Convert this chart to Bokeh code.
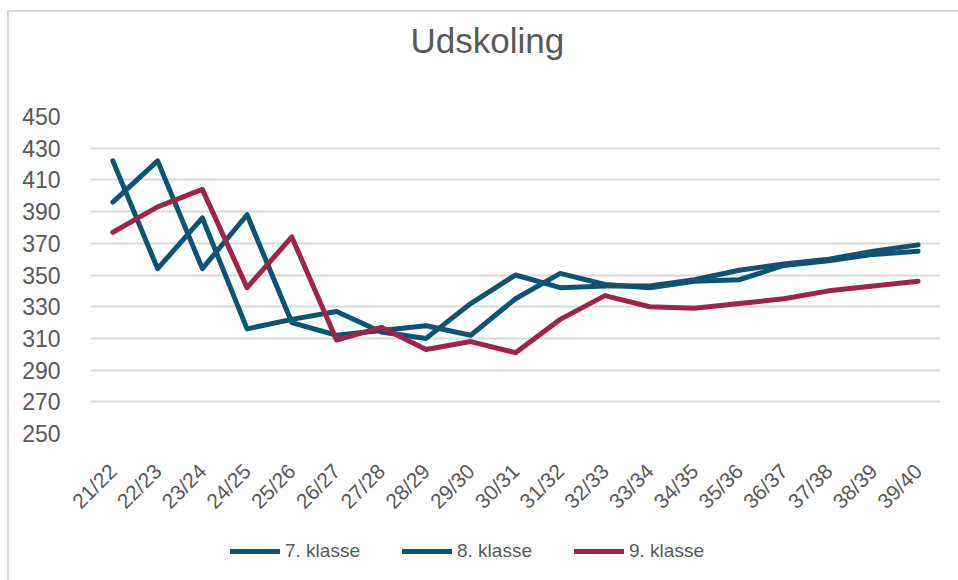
import math
from bokeh.plotting import figure
from bokeh.layouts import column
from bokeh.models import Range1d, FixedTicker, Legend, LegendItem, ColumnDataSource
from bokeh.embed import file_html
from bokeh.resources import INLINE

# ---- data ----
years = ["21/22", "22/23", "23/24", "24/25", "25/26", "26/27", "27/28", "28/29", "29/30", "30/31",
         "31/32", "32/33", "33/34", "34/35", "35/36", "36/37", "37/38", "38/39", "39/40"]
klasse7 = [422, 354, 386, 316, 322, 327, 314, 310, 332, 350, 342, 343, 343, 347, 353, 357, 360, 365, 369]
klasse8 = [396, 422, 354, 388, 320, 312, 315, 318, 312, 335, 351, 344, 342, 346, 347, 356, 359, 363, 365]
klasse9 = [377, 393, 404, 342, 374, 309, 317, 303, 308, 301, 322, 337, 330, 329, 332, 335, 340, 343, 346]
series_names = ["7. klasse", "8. klasse", "9. klasse"]
y_ticks = [250, 270, 290, 310, 330, 350, 370, 390, 410, 430, 450]
chart_title = "Udskoling"

TEAL = "#0c5471"
RED = "#9f2449"
TXT = "#595959"
FONT = "Liberation Sans"
LW = 5

src = ColumnDataSource(dict(x=years, k7=klasse7, k8=klasse8, k9=klasse9))
line_kw = dict(line_width=LW, line_cap="round", line_join="round")


def blank(fig):
    fig.outline_line_color = None
    fig.grid.grid_line_color = None
    fig.background_fill_color = "white"
    fig.border_fill_color = "white"


# ---- title strip ----
tt = figure(x_range=years, y_range=Range1d(0, 1), width=949, height=62,
            output_backend="svg", toolbar_location=None,
            x_axis_location=None, y_axis_location=None,
            min_border_left=81, min_border_right=18, min_border_top=47, min_border_bottom=0)
blank(tt)
tt.title.text = chart_title
tt.title.align = "left"
tt.title.offset = 320
tt.title.text_font = FONT
tt.title.text_font_size = "35px"
tt.title.text_font_style = "normal"
tt.title.text_color = TXT
tt.title.standoff = 0

# ---- main chart ----
p = figure(x_range=years, y_range=Range1d(250, 450), width=949, height=451,
           output_backend="svg", toolbar_location=None,
           min_border_left=81, min_border_right=18, min_border_top=42, min_border_bottom=92)
p.outline_line_color = None
p.background_fill_color = "white"
p.border_fill_color = "white"

p.xgrid.grid_line_color = None
p.ygrid.grid_line_color = "#d9d9d9"
p.ygrid.grid_line_width = 2

p.yaxis.ticker = FixedTicker(ticks=y_ticks)
for ax in (p.xaxis, p.yaxis):
    ax.axis_line_color = None
    ax.major_tick_line_color = None
    ax.minor_tick_line_color = None
    ax.major_tick_out = 0
    ax.major_tick_in = 0
    ax.minor_tick_out = 0
    ax.major_label_text_font = FONT
    ax.major_label_text_color = TXT
p.yaxis.major_label_text_font_size = "23px"
p.yaxis.major_label_standoff = 30
p.xaxis.major_label_text_font_size = "21px"
p.xaxis.major_label_orientation = math.pi / 4
p.xaxis.major_label_standoff = 34

p.line("x", "k7", source=src, line_color=TEAL, **line_kw)
p.line("x", "k8", source=src, line_color=TEAL, **line_kw)
p.line("x", "k9", source=src, line_color=RED, **line_kw)

# ---- legend strip (same series, plotted out of view; only the legend shows) ----
lg = figure(x_range=years, y_range=Range1d(1000, 1001), width=949, height=55,
            output_backend="svg", toolbar_location=None,
            x_axis_location=None, y_axis_location=None,
            min_border_left=81, min_border_right=18, min_border_top=0, min_border_bottom=0)
blank(lg)
q7 = lg.line("x", "k7", source=src, line_color=TEAL, **line_kw)
q8 = lg.line("x", "k8", source=src, line_color=TEAL, **line_kw)
q9 = lg.line("x", "k9", source=src, line_color=RED, **line_kw)

legend = Legend(items=[LegendItem(label=series_names[0], renderers=[q7]),
                       LegendItem(label=series_names[1], renderers=[q8]),
                       LegendItem(label=series_names[2], renderers=[q9])],
                orientation="horizontal", location=(140, 18),
                glyph_width=50, glyph_height=20, label_standoff=5, label_width=100, spacing=17,
                label_text_font=FONT, label_text_font_size="19px", label_text_color=TXT,
                border_line_color=None, background_fill_alpha=0, padding=0, margin=0)
lg.add_layout(legend)

layout = column(tt, p, lg, spacing=0,
                styles={"border-left": "2px solid #d9d9d9", "border-top": "2px solid #d9d9d9",
                        "margin-left": "7px", "margin-top": "10px"})

open("out.html", "w").write(file_html(layout, INLINE))
